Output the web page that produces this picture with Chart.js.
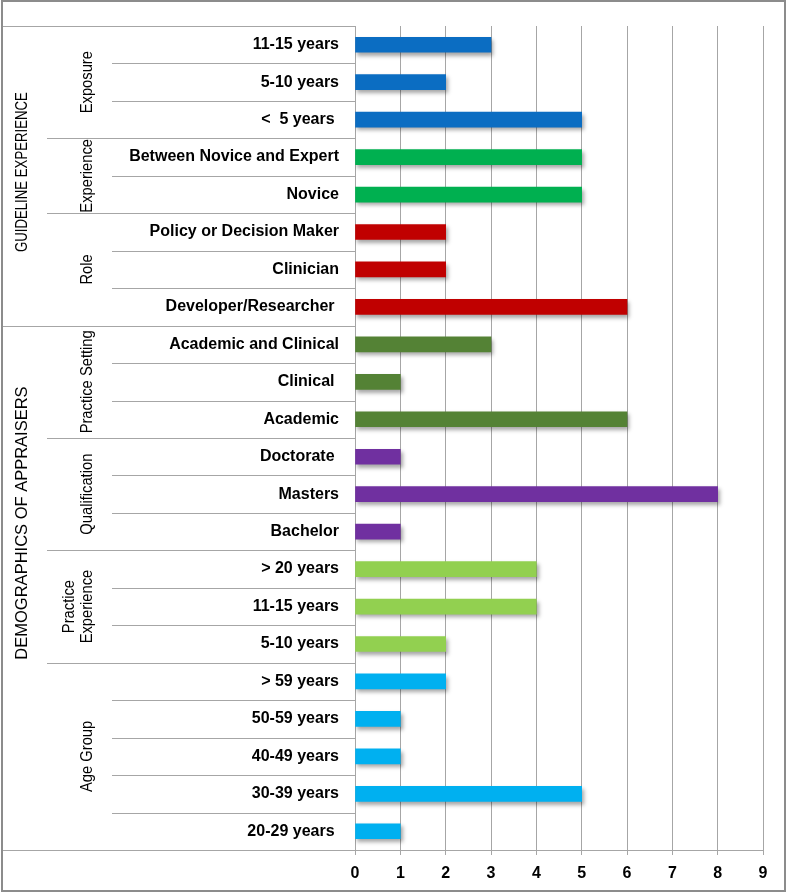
<!DOCTYPE html>
<html>
<head>
<meta charset="utf-8">
<script src="https://cdn.jsdelivr.net/npm/chart.js@4.4.1/dist/chart.umd.min.js"></script>
<style>
  html, body { margin: 0; padding: 0; background: #fff; }
  canvas { display: block; }
</style>
</head>
<body>
<canvas id="chart" width="787" height="892"></canvas>
<script>
// rows top to bottom
const categories = [
  "11-15 years", "5-10 years", "<  5 years ",
  "Between Novice and Expert", "Novice",
  "Policy or Decision Maker", "Clinician", "Developer/Researcher ",
  "Academic and Clinical", "Clinical ", "Academic",
  "Doctorate ", "Masters", "Bachelor",
  "> 20 years", "11-15 years", "5-10 years",
  "> 59 years", "50-59 years", "40-49 years", "30-39 years", "20-29 years "
];
const counts = [3, 2, 5, 5, 5, 2, 2, 6, 3, 1, 6, 1, 8, 1, 4, 4, 2, 2, 1, 1, 5, 1];

const groupNames = [["Exposure"], ["Experience"], ["Role"], ["Practice Setting"],
  ["Qualification"], ["Practice", "Experience"], ["Age Group"]];
const groupSizes = [3, 2, 3, 3, 3, 3, 5];
const groupColors = ["#0B6DC2", "#00B050", "#C00000", "#548235", "#7030A0", "#92D050", "#00B0F0"];

const sectionNames = ["GUIDELINE EXPERIENCE", "DEMOGRAPHICS OF APPRAISERS"];
const sectionSizes = [8, 14];

const xMin = 0, xMax = 9;

const barColors = groupSizes.flatMap((n, i) => Array(n).fill(groupColors[i]));

function boundaries(sizes) {
  const out = [];
  let acc = 0;
  sizes.forEach((n) => { out.push(acc); acc += n; });
  out.push(acc);
  return out;
}

const lineColor = "#a6a6a6";

const labelPanel = {
  id: "labelPanel",
  beforeDatasetsDraw(chart) {
    const ctx = chart.ctx;
    ctx.save();
    ctx.shadowColor = "rgba(0,0,0,0.35)";
    ctx.shadowBlur = 4;
    ctx.shadowOffsetX = 2;
    ctx.shadowOffsetY = 3;
  },
  afterDatasetsDraw(chart) {
    chart.ctx.restore();
  },
  afterDraw(chart, args, opts) {
    const ctx = chart.ctx;
    const yScale = chart.scales.y;
    const area = chart.chartArea;
    const n = categories.length;
    const edge = (i) => {
      if (i <= 0) return area.top;
      if (i >= n) return area.bottom;
      return (yScale.getPixelForValue(i - 1) + yScale.getPixelForValue(i)) / 2;
    };
    const groupEdges = boundaries(groupSizes);
    const sectionEdges = boundaries(sectionSizes);

    ctx.save();
    ctx.strokeStyle = lineColor;
    ctx.lineWidth = 1;
    for (let i = 0; i <= n; i++) {
      let x0 = opts.rowLineX;
      if (groupEdges.includes(i)) x0 = opts.groupLineX;
      if (sectionEdges.includes(i)) x0 = opts.sectionLineX;
      const yy = Math.round(edge(i)) + 0.5;
      ctx.beginPath();
      ctx.moveTo(x0, yy);
      ctx.lineTo(area.left, yy);
      ctx.stroke();
    }

    // outer frame
    ctx.strokeStyle = "#8c8c8c";
    ctx.lineWidth = 2;
    ctx.strokeRect(2, 1, chart.width - 4, chart.height - 2);

    ctx.fillStyle = "#000";
    ctx.textAlign = "center";
    ctx.textBaseline = "middle";

    // group labels
    ctx.font = "16px 'Liberation Sans', Arial, sans-serif";
    groupNames.forEach((lines, g) => {
      const yc = (edge(groupEdges[g]) + edge(groupEdges[g + 1])) / 2;
      lines.forEach((t, i) => {
        ctx.save();
        ctx.translate(opts.groupLabelX + (i - (lines.length - 1)) * 18, yc);
        ctx.rotate(-Math.PI / 2);
        ctx.scale(0.92, 1);
        ctx.fillText(t, 0, 0);
        ctx.restore();
      });
    });

    // section labels
    ctx.font = "16.5px 'Liberation Sans', Arial, sans-serif";
    sectionNames.forEach((t, s) => {
      const yc = yScale.getPixelForValue(opts.sectionCenters[s]);
      ctx.save();
      ctx.translate(opts.sectionLabelX, yc);
      ctx.rotate(-Math.PI / 2);
      if (opts.sectionWidths[s]) ctx.fillText(t, 0, 0, opts.sectionWidths[s]);
      else ctx.fillText(t, 0, 0);
      ctx.restore();
    });
    ctx.restore();
  }
};

const ctx = document.getElementById("chart").getContext("2d");

new Chart(ctx, {
  type: "bar",
  data: {
    labels: categories,
    datasets: [
      {
        data: counts,
        backgroundColor: barColors,
        borderWidth: 0,
        barThickness: 15,
      },
    ],
  },
  options: {
    indexAxis: "y",
    responsive: false,
    animation: false,
    devicePixelRatio: 1,
    layout: { padding: { left: 0, top: 26, right: 24, bottom: 0 } },
    plugins: {
      legend: { display: false },
      tooltip: { enabled: false },
      labelPanel: {
        rowLineX: 112,
        groupLineX: 47,
        sectionLineX: 2,
        groupLabelX: 88,
        sectionLabelX: 22,
        sectionCenters: [3.4, 12.77],
        sectionWidths: [160, null],
      },
    },
    scales: {
      x: {
        min: xMin,
        max: xMax,
        afterFit: (scale) => { scale.height = 42; },
        ticks: {
          stepSize: 1,
          color: "#000",
          padding: 9,
          font: { family: "'Liberation Sans', Arial, sans-serif", size: 16, weight: "bold" },
        },
        grid: { color: lineColor, tickLength: 5 },
        border: { color: lineColor },
      },
      y: {
        afterFit: (scale) => { scale.width = 355; },
        ticks: {
          autoSkip: false,
          color: "#000",
          padding: 16,
          font: { family: "'Liberation Sans', Arial, sans-serif", size: 16, weight: "bold" },
        },
        grid: { display: false, drawTicks: false },
        border: { display: true, color: lineColor },
      },
    },
  },
  plugins: [labelPanel],
});
</script>
</body>
</html>
